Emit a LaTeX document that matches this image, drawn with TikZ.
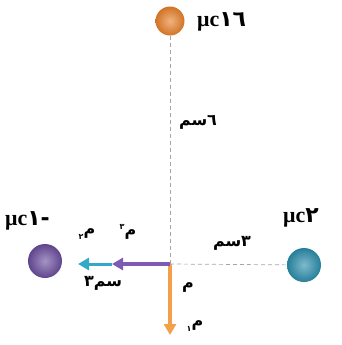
\documentclass[tikz,border=0pt]{standalone}
\usepackage{fontspec}
\setmainfont{Liberation Serif}
\newfontfamily\arabicfont[Script=Arabic]{DejaVu Sans}
\TeXXeTstate=1
\usepackage{xcolor}
\usetikzlibrary{arrows.meta, positioning}
\definecolor{chargeorange}{HTML}{E8802A}
\definecolor{chargeblue}{HTML}{2A8CAA}
\definecolor{chargepurple}{HTML}{6A4C9C}
\definecolor{forceorange}{HTML}{F4A04A}
\definecolor{forcepurple}{HTML}{7E5AB4}
\definecolor{forcecyan}{HTML}{34A8C8}
\newcommand{\ar}[1]{{\arabicfont\bfseries\beginR #1\endR}}

\begin{document}
\begin{tikzpicture}[
    x=1bp, y=-1bp,
    charge/.style={circle, minimum size=34bp, inner sep=0pt},
    chargelabel/.style={font=\fontsize{22}{24}\selectfont\bfseries, inner sep=0pt, anchor=west},
    distlabel/.style={font=\fontsize{16}{18}\selectfont, inner sep=0pt},
    forcelabel/.style={font=\fontsize{16}{18}\selectfont, inner sep=0pt},
    guide/.style={gray!70, line width=0.7bp, dash pattern=on 4bp off 3bp},
    force/.style={line width=4bp, -{Triangle[length=11bp, width=12bp]}},
]
    \useasboundingbox (0,0) rectangle (342,345);

    % charges
    \node[charge, inner color=chargeorange!60!white, outer color=chargeorange!90!black, minimum size=29bp] (qtop) at (170,21) {};
    \node[charge, inner color=chargepurple!60!white, outer color=chargepurple!90!black] (qleft) at (45,261) {};
    \node[charge, inner color=chargeblue!60!white, outer color=chargeblue!90!black] (qright) at (304,265) {};
    \coordinate (P) at (170,264);

    \node[chargelabel] (ltop) at (197,22) {μc{\arabicfont ١٦}};
    \node[chargelabel] (lleft) at (5,221) {μc{\arabicfont -١}};
    \node[chargelabel] (lright) at (283,218) {μc{\arabicfont ٢}};

    % distances
    \draw[guide] (qtop) -- (P);
    \draw[guide] (P) -- (qright);
    \node[distlabel] (d6) at (198,122) {\ar{٦سم}};
    \node[distlabel] (d3r) at (232,243) {\ar{٣سم}};
    \node[distlabel] (d3l) at (103,283) {{\arabicfont\bfseries ٣}\ar{سم}};

    % forces on P
    \coordinate (f1) at (170,335);
    \coordinate (f3) at (112,264);
    \coordinate (f2) at (78,264);
    \draw[force, forceorange] (P) -- (f1);
    \draw[force, forcepurple] (P) -- (f3);
    \draw[force, forcecyan, line width=3bp] (f3) -- (f2);

    \node[forcelabel] (lp) at (188,288) {\ar{م}};
    \node[forcelabel] (lf1) at (195,326) {\ar{م\raisebox{-0.5ex}{\footnotesize ١}}};
    \node[forcelabel] (lf2) at (87,234) {\ar{م\raisebox{-0.5ex}{\footnotesize ٢}}};
    \node[forcelabel] (lf3) at (128,232) {\ar{م\raisebox{0.6ex}{\footnotesize ٣}}};
\end{tikzpicture}
\end{document}
